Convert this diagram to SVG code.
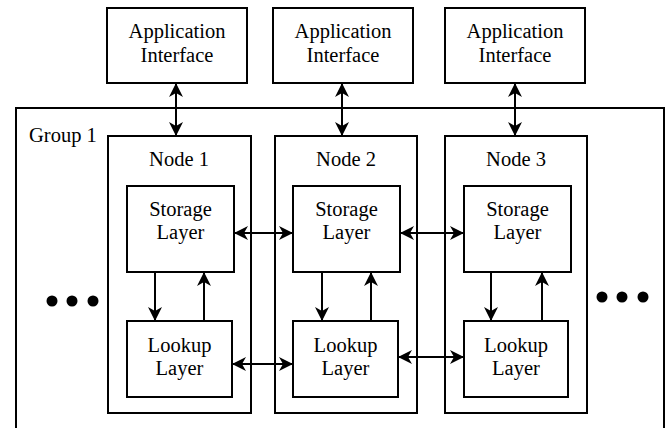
<svg xmlns="http://www.w3.org/2000/svg" width="670" height="428" viewBox="0 0 670 428">
  <style>
    .box { fill: #ffffff; stroke: #000000; stroke-width: 2; }
    .frame { fill: none; stroke: #000000; stroke-width: 2; }
    .conn line { stroke: #000000; stroke-width: 2; fill: none; }
    .one { marker-end: url(#head); }
    .two { marker-start: url(#head); marker-end: url(#head); }
  </style>
  <defs>
    <marker id="head" viewBox="0 0 14 14" refX="13" refY="7" markerWidth="14" markerHeight="14" markerUnits="userSpaceOnUse" orient="auto-start-reverse">
      <path d="M0,0 L14,7 L0,14 L4,7 Z" fill="#000000"/>
    </marker>
  </defs>
  <rect width="670" height="428" fill="#ffffff"/>

  <g font-family="Liberation Serif, Times New Roman, DejaVu Serif, serif" font-size="20.5" fill="#000000">
  <!-- outer group frame (runs past the bottom edge) -->
  <g id="group1">
    <rect class="frame" x="16" y="108" width="648" height="340"/>
    <text x="29" y="142">Group 1</text>
  </g>

  <g text-anchor="middle">
  <!-- application interfaces -->
  <g id="app1">
    <rect class="box" x="107" y="8" width="140" height="75"/>
    <text x="177" y="38">Application</text>
    <text x="177" y="62">Interface</text>
  </g>
  <g id="app2">
    <rect class="box" x="273" y="8" width="140" height="75"/>
    <text x="343" y="38">Application</text>
    <text x="343" y="62">Interface</text>
  </g>
  <g id="app3">
    <rect class="box" x="445" y="8" width="140" height="75"/>
    <text x="515" y="38">Application</text>
    <text x="515" y="62">Interface</text>
  </g>

  <!-- nodes -->
  <g id="node1">
    <rect class="box" x="108" y="136" width="143" height="277"/>
    <text x="179" y="166">Node 1</text>
  </g>
  <g id="node2">
    <rect class="box" x="275" y="136" width="142" height="277"/>
    <text x="346" y="166">Node 2</text>
  </g>
  <g id="node3">
    <rect class="box" x="445" y="136" width="142" height="277"/>
    <text x="516" y="166">Node 3</text>
  </g>

  <!-- storage layers -->
  <g id="storage1">
    <rect class="box" x="127" y="186" width="107" height="86"/>
    <text x="180.5" y="216">Storage</text>
    <text x="180.5" y="239">Layer</text>
  </g>
  <g id="storage2">
    <rect class="box" x="293" y="186" width="107" height="86"/>
    <text x="346.5" y="216">Storage</text>
    <text x="346.5" y="239">Layer</text>
  </g>
  <g id="storage3">
    <rect class="box" x="464" y="186" width="107" height="86"/>
    <text x="517.5" y="216">Storage</text>
    <text x="517.5" y="239">Layer</text>
  </g>

  <!-- lookup layers -->
  <g id="lookup1">
    <rect class="box" x="127" y="321" width="105" height="76"/>
    <text x="179.5" y="352">Lookup</text>
    <text x="179.5" y="375">Layer</text>
  </g>
  <g id="lookup2">
    <rect class="box" x="293" y="321" width="105" height="76"/>
    <text x="345.5" y="352">Lookup</text>
    <text x="345.5" y="375">Layer</text>
  </g>
  <g id="lookup3">
    <rect class="box" x="464" y="321" width="104" height="76"/>
    <text x="516" y="352">Lookup</text>
    <text x="516" y="375">Layer</text>
  </g>
  </g>
  </g>

  <!-- ellipses for further nodes -->
  <g id="more-left">
    <circle cx="52" cy="301" r="5.5"/>
    <circle cx="72" cy="301" r="5.5"/>
    <circle cx="93" cy="301" r="5.5"/>
  </g>
  <g id="more-right">
    <circle cx="602" cy="297" r="5.5"/>
    <circle cx="622" cy="297" r="5.5"/>
    <circle cx="643" cy="297" r="5.5"/>
  </g>

  <!-- connectors -->
  <g id="connectors" class="conn">
    <line class="two" x1="176" y1="84" x2="176" y2="135"/>
    <line class="two" x1="342" y1="84" x2="342" y2="135"/>
    <line class="two" x1="515" y1="84" x2="515" y2="135"/>

    <line class="one" x1="155" y1="273" x2="155" y2="320"/>
    <line class="one" x1="204" y1="320" x2="204" y2="273"/>
    <line class="one" x1="322" y1="273" x2="322" y2="320"/>
    <line class="one" x1="371" y1="320" x2="371" y2="273"/>
    <line class="one" x1="491" y1="273" x2="491" y2="320"/>
    <line class="one" x1="542" y1="320" x2="542" y2="273"/>

    <line class="two" x1="235" y1="233" x2="292" y2="233"/>
    <line class="two" x1="401" y1="233" x2="463" y2="233"/>
    <line class="two" x1="233" y1="364" x2="292" y2="364"/>
    <line class="two" x1="399" y1="357" x2="463" y2="357"/>
  </g>
</svg>
